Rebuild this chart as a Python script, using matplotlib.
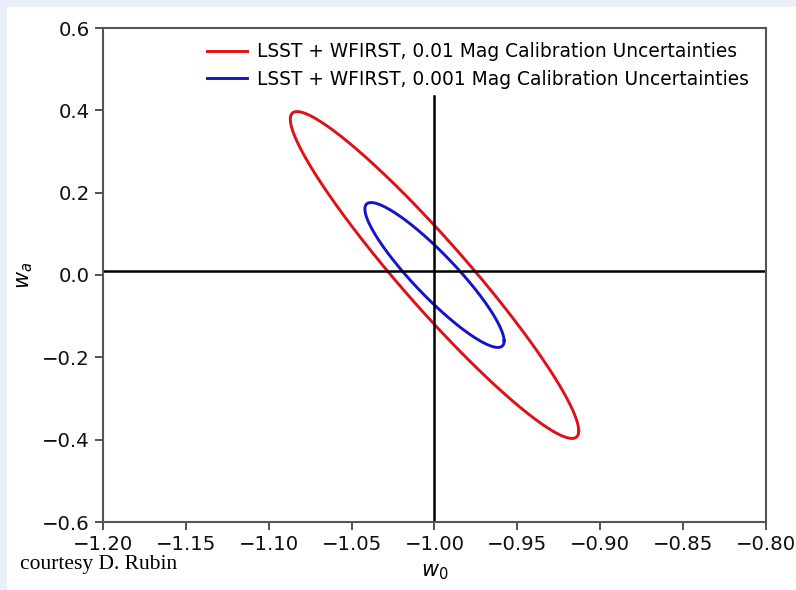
import numpy as np
import matplotlib.pyplot as plt
from matplotlib.patches import Rectangle

# contour parameters
labels = ["LSST + WFIRST, 0.01 Mag Calibration Uncertainties",
          "LSST + WFIRST, 0.001 Mag Calibration Uncertainties"]
colors = ["#e01018", "#1414cc"]
center_w0 = [-1.0, -1.0]
center_wa = [0.0, 0.0]
half_w0 = [0.087, 0.042]     # half extent along w0
half_wa = [0.397, 0.176]     # half extent along wa
corr = [-0.953, -0.91]

x_ticks = [-1.20, -1.15, -1.10, -1.05, -1.00, -0.95, -0.90, -0.85, -0.80]
y_ticks = [-0.6, -0.4, -0.2, 0.0, 0.2, 0.4, 0.6]
cross_w0 = -1.0
cross_wa = 0.01
vline_top = 0.435

fig = plt.figure(figsize=(7.96, 5.90), dpi=100)
fig.patch.set_facecolor("#e9f0f7")
fig.patches.append(Rectangle((7 / 796, 0), 1, 1 - 7 / 590, transform=fig.transFigure,
                             facecolor="white", edgecolor="none", zorder=-10))
ax = fig.add_axes([103 / 796, 1 - 522 / 590, (766 - 103) / 796, (522 - 28) / 590])
ax.set_zorder(1)

t = np.linspace(0, 2 * np.pi, 400)
for i in range(len(labels)):
    x = center_w0[i] + half_w0[i] * np.cos(t)
    y = center_wa[i] + half_wa[i] * (corr[i] * np.cos(t) + np.sqrt(1 - corr[i] ** 2) * np.sin(t))
    ax.plot(x, y, color=colors[i], lw=2.1, label=labels[i])

ax.axhline(cross_wa, color="black", lw=1.8)
ax.plot([cross_w0, cross_w0], [-0.6, vline_top], color="black", lw=1.8)

ax.set_xlim(-1.2, -0.8)
ax.set_ylim(-0.6, 0.6)
ax.set_xticks(x_ticks)
ax.set_yticks(y_ticks)
ax.set_xticklabels([f"{v:.2f}".replace("-", "\u2212") for v in x_ticks])
ax.set_yticklabels([f"{v:.1f}".replace("-", "\u2212") for v in y_ticks])
ax.tick_params(labelsize=14.2, width=1.3, length=6, color="#444444", labelcolor="#111111")
ax.tick_params(axis="x", pad=3)
for s in ax.spines.values():
    s.set_linewidth(1.5)
    s.set_color("#555555")
ax.set_xlabel("$w_0$", fontsize=15, labelpad=6)
ax.set_ylabel("$w_a$", fontsize=15, labelpad=5)

ax.legend(loc="upper right", bbox_to_anchor=(1.0, 1.005), frameon=False, fontsize=13.4,
          handlelength=2.15, handletextpad=0.55, labelspacing=0.45)

fig.text(20 / 796, 1 - 564 / 590, "courtesy D. Rubin", family="Liberation Serif",
         fontsize=15.5, va="center", ha="left")

fig.savefig("out.png", dpi=100, facecolor=fig.get_facecolor())
